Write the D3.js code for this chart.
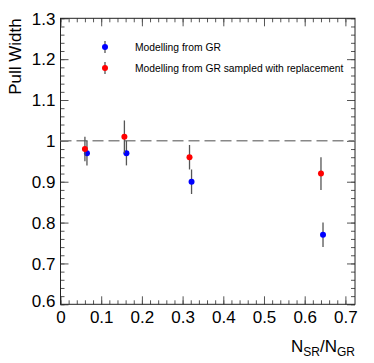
<!DOCTYPE html>
<html>
<head>
<meta charset="utf-8">
<script src="https://cdn.jsdelivr.net/npm/d3@7"></script>
<style>
  body { margin: 0; background: #fff; }
  text { font-family: "Liberation Sans", Arial, sans-serif; }
</style>
</head>
<body>
<svg id="chart" width="374" height="363"></svg>
<script>
// data
const grX = [0.065, 0.162, 0.322, 0.645];
const grY = [0.97, 0.97, 0.90, 0.77];
const grErr = [0.03, 0.03, 0.03, 0.03];

const swrX = [0.060, 0.157, 0.317, 0.640];
const swrY = [0.98, 1.01, 0.96, 0.92];
const swrErr = [0.03, 0.04, 0.03, 0.04];

const xTicks = [0, 0.1, 0.2, 0.3, 0.4, 0.5, 0.6, 0.7];
const yTicks = [0.6, 0.7, 0.8, 0.9, 1, 1.1, 1.2, 1.3];
const seriesNames = ["Modelling from GR", "Modelling from GR sampled with replacement"];
const seriesColors = ["#0000ff", "#ff0000"];

// frame
const pLeft = 60.5, pRight = 355, pTop = 18.3, pBottom = 304.3;

const x = d3.scaleLinear().domain([0, 0.7236]).range([pLeft, pRight]);
const y = d3.scaleLinear().domain([0.6, 1.3]).range([pBottom, pTop]);

const svg = d3.select("#chart");

// minor ticks every 0.02
const xMinor = d3.range(0, 0.72, 0.02);
const yMinor = d3.range(0.6, 1.3001, 0.02);

const tickCol = "#555";

// bottom axis
const xAxisB = svg.append("g").attr("transform", `translate(0,${pBottom})`);
xAxisB.call(d3.axisBottom(x).tickValues(xMinor).tickSize(-4).tickFormat(""));
xAxisB.append("g").call(d3.axisBottom(x).tickValues(xTicks).tickSize(-8)
  .tickFormat(d => d === 0 ? "0" : d3.format(".1f")(d)));
// top axis
const xAxisT = svg.append("g").attr("transform", `translate(0,${pTop})`);
xAxisT.call(d3.axisTop(x).tickValues(xMinor).tickSize(-4).tickFormat(""));
xAxisT.append("g").call(d3.axisTop(x).tickValues(xTicks).tickSize(-8).tickFormat(""));

// left axis
const yAxisL = svg.append("g").attr("transform", `translate(${pLeft},0)`);
yAxisL.call(d3.axisLeft(y).tickValues(yMinor).tickSize(-4).tickFormat(""));
yAxisL.append("g").call(d3.axisLeft(y).tickValues(yTicks).tickSize(-8)
  .tickFormat(d => d === 1 ? "1" : d3.format(".1f")(d)));
// right axis
const yAxisR = svg.append("g").attr("transform", `translate(${pRight},0)`);
yAxisR.call(d3.axisRight(y).tickValues(yMinor).tickSize(-4).tickFormat(""));
yAxisR.append("g").call(d3.axisRight(y).tickValues(yTicks).tickSize(-8).tickFormat(""));

svg.selectAll(".domain").remove();
svg.selectAll(".tick line").attr("stroke", tickCol).attr("stroke-width", 1);
svg.selectAll(".tick text").attr("fill", "#000").style("font-size", "17px");
xAxisB.selectAll(".tick text").attr("dy", "0.85em").attr("y", 4);
yAxisL.selectAll(".tick text").attr("x", -5).attr("dy", "0.34em");
yAxisL.selectAll(".tick text").filter(d => d === 0.6).attr("dy", "0.1em");

// frame
svg.append("rect")
  .attr("x", pLeft).attr("y", pTop)
  .attr("width", pRight - pLeft).attr("height", pBottom - pTop)
  .attr("fill", "none").attr("stroke", "#222").attr("stroke-width", 1);

// dashed reference line at 1
svg.append("line")
  .attr("x1", pLeft).attr("x2", pRight)
  .attr("y1", y(1)).attr("y2", y(1))
  .attr("stroke", "#888").attr("stroke-width", 1.5)
  .attr("stroke-dasharray", "11,5");

// draw both series
const series = [
  { xs: grX, ys: grY, es: grErr, color: seriesColors[0] },
  { xs: swrX, ys: swrY, es: swrErr, color: seriesColors[1] }
];

series.forEach(s => {
  const pts = s.xs.map((v, i) => ({ x: v, y: s.ys[i], e: s.es[i] }));
  const g = svg.append("g");
  g.selectAll("line")
    .data(pts)
    .enter()
    .append("line")
    .attr("x1", d => x(d.x)).attr("x2", d => x(d.x))
    .attr("y1", d => y(d.y - d.e)).attr("y2", d => y(d.y + d.e))
    .attr("stroke", "#555").attr("stroke-width", 1.3);
  g.selectAll("circle")
    .data(pts)
    .enter()
    .append("circle")
    .attr("cx", d => x(d.x))
    .attr("cy", d => y(d.y))
    .attr("r", 3)
    .attr("fill", s.color);
});

// legend
const legend = svg.append("g");
seriesNames.forEach((name, i) => {
  const ly = 47 + i * 21;
  legend.append("line")
    .attr("x1", 105).attr("x2", 105)
    .attr("y1", ly - 6).attr("y2", ly + 6)
    .attr("stroke", "#555").attr("stroke-width", 1.3);
  legend.append("circle")
    .attr("cx", 105).attr("cy", ly).attr("r", 3)
    .attr("fill", seriesColors[i]);
  legend.append("text")
    .attr("x", 135).attr("y", ly + 4)
    .style("font-size", "10.3px")
    .text(name);
});

// axis titles
const xt = svg.append("text")
  .attr("x", pRight).attr("y", 352)
  .attr("text-anchor", "end")
  .style("font-size", "17px");
xt.append("tspan").text("N");
xt.append("tspan").attr("dy", 4).style("font-size", "12px").text("SR");
xt.append("tspan").attr("dy", -4).text("/N");
xt.append("tspan").attr("dy", 4).style("font-size", "12px").text("GR");

svg.append("text")
  .attr("transform", `translate(21,${pTop}) rotate(-90)`)
  .attr("text-anchor", "end")
  .style("font-size", "17px")
  .text("Pull Width");
</script>
</body>
</html>
